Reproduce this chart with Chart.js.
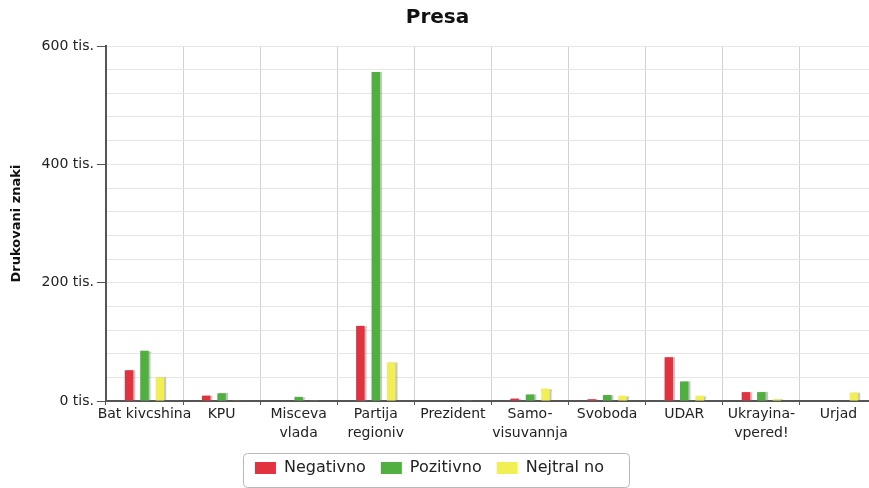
<!DOCTYPE html>
<html>
<head>
<meta charset="utf-8">
<script src="https://cdn.jsdelivr.net/npm/chart.js@4/dist/chart.umd.min.js"></script>
<style>
  html, body { margin: 0; padding: 0; background: #fff; overflow: hidden; }
  #wrap { width: 877px; height: 488px; }
</style>
</head>
<body>
<div id="wrap"><canvas id="c"></canvas></div>
<script>
// Party categories (multi-line labels as arrays)
const categories = [
  'Bat kivcshina', 'KPU', ['Misceva', 'vlada'], ['Partija', 'regioniv'], 'Prezident',
  ['Samo-', 'visuvannja'], 'Svoboda', 'UDAR', ['Ukrayina-', 'vpered!'], 'Urjad'
];
// Printed characters per tone
const negativno = [52000, 9000, 0, 127000, 0, 4000, 3000, 74000, 15000, 0];
const pozitivno = [85000, 13000, 7000, 556000, 0, 11000, 10000, 33000, 15000, 0];
const nejtralno = [40000, 1000, 1000, 65000, 1000, 21000, 9000, 9000, 3000, 14000];
const seriesNames = ['Negativno', 'Pozitivno', 'Nejtral no'];
const yTickLabels = [0, 200000, 400000, 600000];

const FONT = 'DejaVu Sans';

// soft grey drop shadow on the bars
const barShadow = {
  id: 'barShadow',
  beforeDatasetsDraw(chart) {
    const ctx = chart.ctx;
    ctx.save();
    ctx.shadowColor = 'rgba(120,120,120,0.45)';
    ctx.shadowOffsetX = 2;
    ctx.shadowOffsetY = 0;
    ctx.shadowBlur = 1;
  },
  afterDatasetsDraw(chart) {
    chart.ctx.restore();
  }
};

// title and legend sit a little left of centre; legend gets a rounded frame
const legendFrame = {
  id: 'legendFrame',
  afterLayout(chart) {
    const lg = chart.legend;
    if (lg) { lg.left -= 13; lg.right -= 13; }
    const tb = chart.titleBlock;
    if (tb) { tb.left -= 5; tb.right -= 5; }
  },
  afterDraw(chart) {
    const lg = chart.legend;
    if (!lg || !lg.legendHitBoxes || !lg.legendHitBoxes.length) return;
    const boxes = lg.legendHitBoxes;
    const first = boxes[0];
    const last = boxes[boxes.length - 1];
    const x0 = first.left - 12;
    const x1 = last.left + last.width + 25;
    const cy = first.top + first.height / 2;
    const y0 = cy - 15;
    const y1 = cy + 19;
    const ctx = chart.ctx;
    ctx.save();
    ctx.strokeStyle = '#b8b8b8';
    ctx.lineWidth = 1;
    ctx.beginPath();
    ctx.roundRect(Math.round(x0) + 0.5, Math.round(y0) + 0.5, Math.round(x1 - x0), Math.round(y1 - y0), 4);
    ctx.stroke();
    ctx.restore();
  }
};

new Chart(document.getElementById('c'), {
  type: 'bar',
  data: {
    labels: categories,
    datasets: [
      { label: seriesNames[0], data: negativno, backgroundColor: '#e0323f' },
      { label: seriesNames[1], data: pozitivno, backgroundColor: '#4fb03f' },
      { label: seriesNames[2], data: nejtralno, backgroundColor: '#f2ef55' }
    ]
  },
  plugins: [barShadow, legendFrame],
  options: {
    responsive: true,
    maintainAspectRatio: false,
    animation: false,
    layout: { padding: { left: 8, right: 0, top: 4, bottom: 2 } },
    datasets: {
      bar: { categoryPercentage: 0.6, barPercentage: 0.55 }
    },
    plugins: {
      title: {
        display: true,
        text: 'Presa',
        color: '#111',
        font: { family: FONT, size: 20, weight: 'bold' },
        padding: { top: 2, bottom: 16 }
      },
      legend: {
        position: 'bottom',
        labels: {
          color: '#222',
          font: { family: FONT, size: 16 },
          boxWidth: 21,
          boxHeight: 12,
          padding: 15
        }
      },
      tooltip: { enabled: false }
    },
    scales: {
      x: {
        afterFit: (scale) => { scale.height = 44; },
        grid: {
          color: '#d2d2d2',
          tickLength: 4,
          tickColor: '#555',
          offset: true
        },
        border: { color: '#555', width: 2 },
        ticks: {
          color: '#222',
          font: { family: FONT, size: 14, lineHeight: 1.35 },
          maxRotation: 0,
          autoSkip: false,
          padding: 0
        }
      },
      y: {
        min: 0,
        max: 600000,
        grid: {
          color: '#e6e6e6',
          tickLength: 9,
          tickColor: (c) => (c.tick && yTickLabels.includes(c.tick.value)) ? '#555' : 'rgba(0,0,0,0)'
        },
        border: { color: '#555', width: 2 },
        ticks: {
          stepSize: 40000,
          color: '#222',
          font: { family: FONT, size: 14 },
          padding: 3,
          callback: (v) => yTickLabels.includes(v) ? (v / 1000) + ' tis.' : ''
        },
        title: {
          display: true,
          text: 'Drukovani znaki',
          color: '#111',
          font: { family: FONT, size: 13, weight: 'bold' },
          padding: { top: 1, bottom: 14 }
        }
      }
    }
  }
});
</script>
</body>
</html>
